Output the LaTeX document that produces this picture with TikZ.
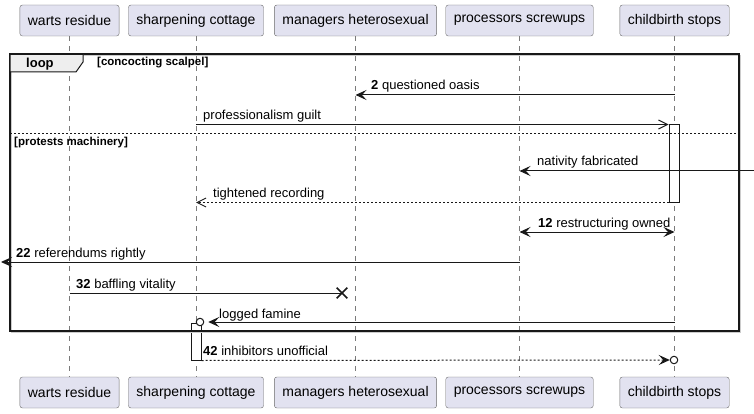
\documentclass[tikz,border=0pt]{standalone}
\usepackage{fontspec}
\setmainfont{Liberation Sans}
\usetikzlibrary{arrows.meta, shapes.misc, positioning}

\definecolor{partfill}{HTML}{E2E2F0}
\definecolor{partline}{HTML}{6A6A6A}
\definecolor{lifegray}{HTML}{7A7A7A}
\definecolor{msgline}{HTML}{181818}
\definecolor{tabfill}{HTML}{EEEEEE}

\begin{document}
\begin{tikzpicture}[x=1pt, y=-1pt,
    part/.style={rectangle, draw=partline, fill=partfill, rounded corners=2.5pt, minimum height=31pt, inner xsep=8pt, font=\fontsize{14}{16}\selectfont},
    life/.style={draw=lifegray, dash pattern=on 5pt off 5pt, line width=0.8pt},
    msg/.style={draw=msgline, line width=1pt},
    reply/.style={msg, dash pattern=on 2pt off 2pt},
    fhead/.style={-{Stealth[length=11pt, width=10pt, inset=4.5pt]}},
    ohead/.style={-{Straight Barb[length=9pt, width=9pt]}},
    lbl/.style={anchor=base west, inner sep=0pt, font=\fontsize{13}{15}\selectfont},
    guard/.style={anchor=base west, inner sep=0pt, font=\fontsize{11.5}{13}\selectfont\bfseries},
    act/.style={draw=msgline, fill=white, line width=1pt, minimum width=10pt, inner sep=0pt},
    dot/.style={circle, draw=msgline, fill=white, line width=1pt, minimum size=7.5pt, inner sep=0pt}]
    \useasboundingbox (0,0) rectangle (754,414);

    % participants, top and bottom
    \node [part] (ws) at (69.5,20.5) {warts residue};
    \node [part] (sc) at (196,20.5) {sharpening cottage};
    \node [part] (mh) at (355.5,20.5) {managers heterosexual};
    \node [part] (ps) at (519.5,20.5) {processors screwups};
    \node [part] (cb) at (674.5,20.5) {childbirth stops};
    \node [part] (ws2) at (69.5,392.5) {warts residue};
    \node [part] (sc2) at (196,392.5) {sharpening cottage};
    \node [part] (mh2) at (355.5,392.5) {managers heterosexual};
    \node [part] (ps2) at (519.5,392.5) {processors screwups};
    \node [part] (cb2) at (674.5,392.5) {childbirth stops};
    \foreach \p in {ws, sc, mh, ps, cb}
        \draw [life] (\p) -- (\p2);

    % activations
    \node [act, minimum height=77pt] (a1) at (674,163.5) {};
    \node [act, minimum height=37pt] (a2) at (196,341.5) {};

    % loop frame
    \draw [gray!40, line width=1.5pt] (11.5,55.5) rectangle (740.5,332.5);
    \draw [msgline, line width=1.5pt] (10,54) rectangle (739,331);
    \draw [msgline, fill=tabfill, line width=1pt] (10,54) -- (83,54) -- (83,62) -- (76,72) -- (10,72) -- cycle;
    \draw [msgline, line width=1.5pt] (10,54) -- (83,54);
    \node [guard, font=\fontsize{13}{15}\selectfont\bfseries] (looplbl) at (26,67.5) {loop};
    \node [guard] (g1) at (97,66) {[concocting scalpel]};
    \draw [msgline, line width=1pt, dash pattern=on 2pt off 2pt] (10,133.5) -- (739,133.5);
    \node [guard] (g2) at (14,146) {[protests machinery]};

    % messages
    \draw [msg, fhead] (cb |- 0,95) -- (mh |- 0,95);
    \node [lbl] (l1) at (371,90) {\textbf{2} questioned oasis};
    \draw [msg, ohead] (sc |- a1.north) -- (a1.north west);
    \node [lbl] (l2) at (203,120) {professionalism guilt};
    \coordinate (edgeR) at (754,171);
    \draw [msg, fhead] (edgeR) -- (ps |- edgeR);
    \node [lbl] (l3) at (537,166) {nativity fabricated};
    \draw [reply, ohead] (a1.south west) -- (sc |- a1.south);
    \node [lbl] (l4) at (213,197) {tightened recording};
    \draw [msg, {Stealth[length=11pt, width=10pt, inset=4.5pt]}-{Stealth[length=11pt, width=10pt, inset=4.5pt]}] (ps |- 0,232) -- (cb |- 0,232);
    \node [lbl] (l5) at (538,227) {\textbf{12} restructuring owned};
    \coordinate (edgeL) at (1,262);
    \draw [msg, fhead] (ps |- edgeL) -- (edgeL);
    \node [lbl] (l6) at (16,257) {\textbf{22} referendums rightly};
    \node [cross out, draw=msgline, line width=1.6pt, minimum size=9pt, inner sep=0pt] (kill) at (342,293) {};
    \draw [msg] (ws |- kill) -- (kill.center);
    \node [lbl] (l7) at (76,288) {\textbf{32} baffling vitality};
    \node [dot] (c1) at (200,322) {};
    \draw [msg, fhead] (cb |- c1) -- ([xshift=4pt]c1.east);
    \node [lbl] (l8) at (219,318) {logged famine};
    \node [dot] (c2) at (674,360) {};
    \draw [reply, fhead] (a2.south east) -- (c2.west);
    \node [lbl] (l9) at (203,355) {\textbf{42} inhibitors unofficial};
\end{tikzpicture}
\end{document}
